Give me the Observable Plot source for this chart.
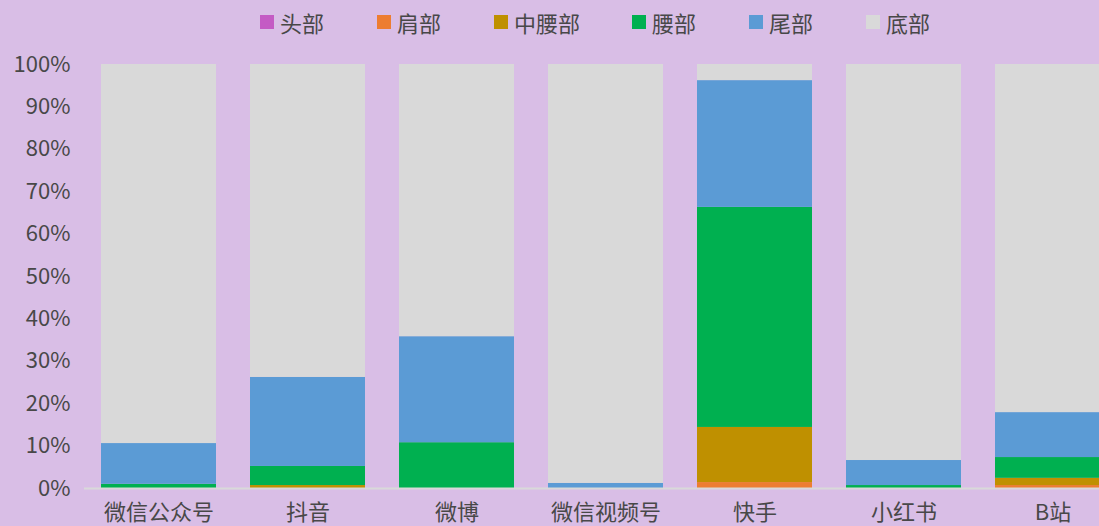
<!DOCTYPE html>
<html><head><meta charset="utf-8">
<script src="https://cdn.jsdelivr.net/npm/d3@7"></script>
<script src="https://cdn.jsdelivr.net/npm/@observablehq/plot@0.6"></script>
<style>
html,body{margin:0;padding:0;background:#D9BEE6;overflow:hidden;}
body{width:1099px;height:526px;font-family:"Noto Sans CJK SC","Noto Sans",sans-serif;}
#legend{position:relative;height:45px;width:1099px;}
#chart{width:1099px;overflow:hidden;}
#chart svg{max-width:none !important;}
.item{position:absolute;top:6px;display:flex;align-items:center;font-size:22px;color:#484848;}
.sw{width:14px;height:14px;margin-right:6px;}
</style></head>
<body>
<div id="legend"></div>
<div id="chart"></div>
<script>
const platforms = ["微信公众号","抖音","微博","微信视频号","快手","小红书","B站"];
const tiers = ["头部","肩部","中腰部","腰部","尾部","底部"];
const colors = ["#C45BC4","#ED7D31","#BF9000","#00B050","#5B9BD5","#D9D9D9"];
const head     = [0,   0,   0,   0,   0,    0,   0];
const shoulder = [0,   0,   0,   0,   1.4,  0,   0.7];
const midWaist = [0,   0.7, 0,   0,   13.0, 0,   1.7];
const waist    = [1.0, 4.5, 10.8,0,   51.9, 0.7, 4.9];
const tail     = [9.6, 21.0,25.0,1.2, 29.9, 5.9, 10.6];
const bottom   = [89.4,73.8,64.2,98.8,3.8,  93.4,82.1];
const yTicks = [0,10,20,30,40,50,60,70,80,90,100];

const series = [head, shoulder, midWaist, waist, tail, bottom];
const data = [];
series.forEach((vals, i) => vals.forEach((v, j) => data.push({platform: platforms[j], tier: tiers[i], value: v})));

// legend
const legendX = [260, 377, 494, 632, 749, 866];
const lg = document.getElementById("legend");
tiers.forEach((t, i) => {
  const d = document.createElement("div");
  d.className = "item";
  d.style.left = legendX[i] + "px";
  d.innerHTML = `<span class="sw" style="background:${colors[i]}"></span><span>${t}</span>`;
  lg.appendChild(d);
});

const chart = Plot.plot({
  width: 1127,
  height: 481,
  marginTop: 19,
  marginBottom: 38,
  marginLeft: 84,
  marginRight: 0,
  style: {background: "transparent", fontFamily: "'Noto Sans CJK SC','Noto Sans',sans-serif", fontSize: "22px", color: "#484848", maxWidth: "none"},
  x: {domain: platforms, paddingInner: 0.228, paddingOuter: 0.114, label: null},
  y: {domain: [0, 100], label: null},
  color: {domain: tiers, range: colors},
  marks: [
    Plot.barY(data, {x: "platform", y: "value", fill: "tier", order: tiers}),
    Plot.ruleY([0], {stroke: "#D9D9D9", strokeWidth: 2}),
    Plot.axisY(yTicks, {tickSize: 0, tickPadding: 14, tickFormat: d => d + "%", fill: "#484848", fontSize: 22}),
    Plot.axisX({tickSize: 0, tickPadding: 16, fill: "#484848", fontSize: 22})
  ]
});
document.getElementById("chart").appendChild(chart);
</script>
</body></html>
